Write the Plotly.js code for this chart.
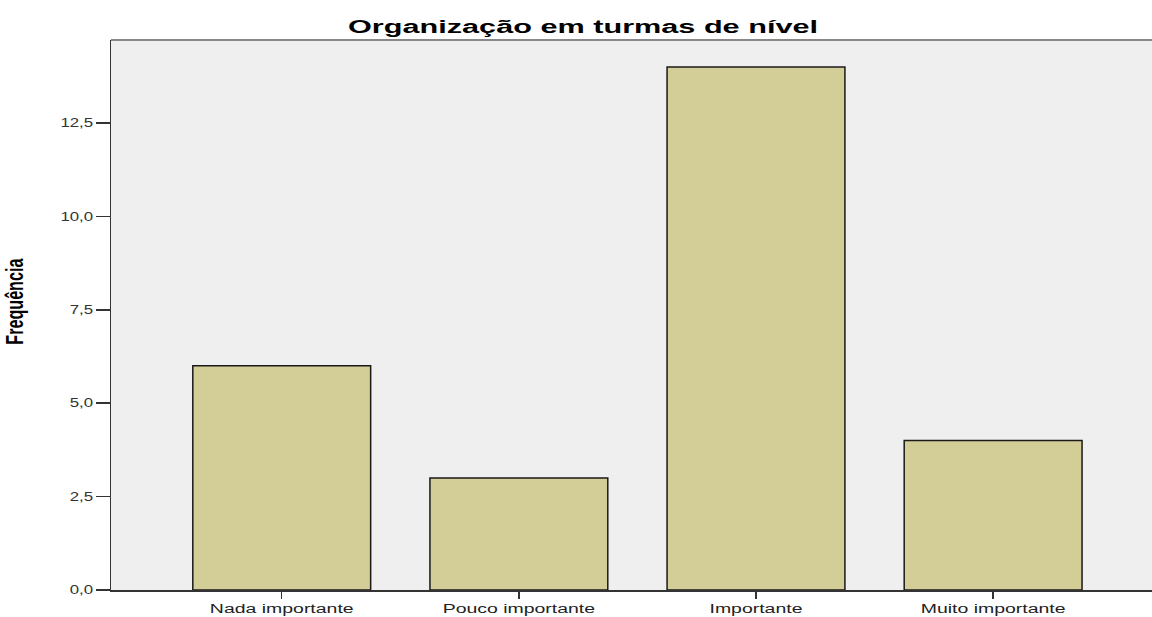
<!DOCTYPE html>
<html><head><meta charset="utf-8">
<script src="https://cdn.plot.ly/plotly-3.0.1.min.js"></script>
<style>html,body{margin:0;padding:0;background:#fff}</style>
</head><body>
<div id="chart" style="width:1152px;height:617px"></div>
<script>
const categories = ["Nada importante", "Pouco importante", "Importante", "Muito importante"];
const frequencies = [6, 3, 14, 4];
const yTickValues = [0, 2.5, 5, 7.5, 10, 12.5];
const chartTitle = "Organização em turmas de nível";
const yTitle = "Frequência";

const trace = {
  type: "bar",
  x: categories,
  y: frequencies,
  width: 0.75,
  marker: {color: "#d3cd97", line: {color: "#1a1a1a", width: 1.5}},
  hoverinfo: "x+y"
};

const layout = {
  width: 1152, height: 617,
  margin: {l: 111, r: 0, t: 40, b: 27, pad: 0},
  paper_bgcolor: "#ffffff",
  plot_bgcolor: "#efefef",
  separators: ",.",
  showlegend: false,
  font: {family: "Liberation Sans, Arial, sans-serif", size: 12, color: "#222"},
  title: {text: chartTitle, font: {family: "Liberation Sans, Arial, sans-serif", size: 18, color: "#000", weight: "bold"},
          x: 583/1152, xref: "container", xanchor: "center", y: 1 - 27/617, yref: "container", yanchor: "middle"},
  xaxis: {
    type: "category",
    range: [-0.72, 3.67],
    showgrid: false, zeroline: false,
    showline: true, linecolor: "#333", linewidth: 1.5,
    ticks: "outside", ticklen: 7, tickwidth: 1.5, tickcolor: "#333",
    tickfont: {size: 12, color: "#222"},
    fixedrange: true
  },
  yaxis: {
    range: [0, 14.72],
    tickvals: yTickValues,
    tickformat: ".1f",
    showgrid: false, zeroline: false,
    showline: true, linecolor: "#333", linewidth: 1.5,
    ticks: "outside", ticklen: 14, tickwidth: 1.5, tickcolor: "#333",
    tickfont: {size: 12, color: "#333"},
    fixedrange: true
  },
  annotations: [{
    text: yTitle, xref: "paper", yref: "paper",
    x: -(111 - 15) / 1041, y: (590 - 302) / 550,
    xanchor: "center", yanchor: "middle", textangle: -90, showarrow: false,
    font: {family: "Liberation Sans, Arial, sans-serif", size: 23, color: "#000", weight: "bold"}
  }],
  shapes: [{type: "line", xref: "paper", yref: "paper", x0: 0, x1: 1, y0: 1, y1: 1,
            line: {color: "#888", width: 2}}]
};

function stretch(sel, fn) {
  document.querySelectorAll(sel).forEach(t => {
    const L = t.getComputedTextLength();
    t.setAttribute("textLength", fn(L));
    t.setAttribute("lengthAdjust", "spacingAndGlyphs");
  });
}

Plotly.newPlot("chart", [trace], layout, {displayModeBar: false, staticPlot: true}).then(() => {
  stretch(".xtick text", L => L * 1.62);
  stretch(".ytick text", L => L * 1.4);
  stretch(".gtitle", L => 470);
  stretch(".annotation-text", L => 86);
});
</script>
</body></html>
